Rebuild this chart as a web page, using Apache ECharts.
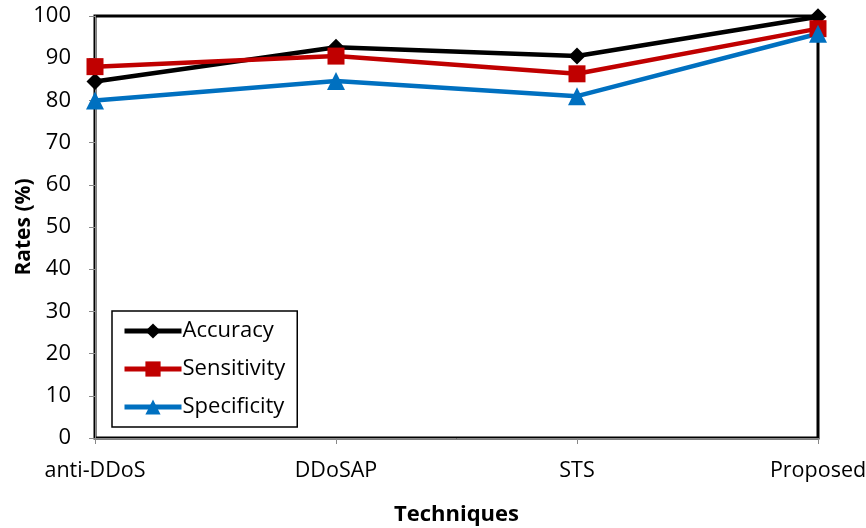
<!DOCTYPE html>
<html>
<head>
<meta charset="utf-8">
<script src="https://cdn.jsdelivr.net/npm/echarts@6/dist/echarts.min.js"></script>
<style>
  html, body { margin: 0; padding: 0; background: #fff; }
  #chart { width: 866px; height: 528px; }
</style>
</head>
<body>
<div id="chart"></div>
<script>
// Detection rates of each technique (%)
const techniques = ['anti-DDoS', 'DDoSAP', 'STS', 'Proposed'];
const accuracy = [84.5, 92.6, 90.5, 99.8];
const sensitivity = [88.0, 90.5, 86.3, 97.0];
const specificity = [80.0, 84.6, 81.0, 95.8];
const yTicks = [0, 10, 20, 30, 40, 50, 60, 70, 80, 90, 100];

const FONT = '"Open Sans", Lato, sans-serif';

function lineSeries(name, data, color, symbol, size) {
  return {
    name, type: 'line', data,
    symbol, symbolSize: size,
    lineStyle: { color, width: 4.5 },
    itemStyle: { color },
    z: 3
  };
}

const chart = echarts.init(document.getElementById('chart'), null, { renderer: 'canvas' });
chart.setOption({
  animation: false,
  backgroundColor: '#fff',
  textStyle: { fontFamily: FONT },
  grid: {
    left: 95, right: 48, top: 16, bottom: 90,
    outerBoundsMode: 'none',
    containLabel: false,
    show: true, borderColor: '#000', borderWidth: 3, backgroundColor: 'transparent'
  },
  legend: {
    left: 112, top: 311,
    orient: 'vertical',
    itemGap: 16,
    itemWidth: 57, itemHeight: 19,
    padding: [9, 12, 9, 10],
    borderColor: '#000', borderWidth: 1.5,
    backgroundColor: '#fff',
    lineStyle: { width: 5 },
    textStyle: { fontFamily: FONT, fontSize: 22, color: '#000', padding: [0, 0, 0, -4] },
    data: ['Accuracy', 'Sensitivity', 'Specificity']
  },
  xAxis: {
    type: 'category',
    data: techniques,
    boundaryGap: false,
    name: 'Techniques',
    nameLocation: 'middle',
    nameGap: 66,
    nameMoveOverlap: false,
    nameTextStyle: { fontFamily: FONT, fontSize: 22, fontWeight: 'bold', color: '#000' },
    axisLine: { lineStyle: { color: '#888', width: 1 } },
    axisTick: { show: true, length: 6, lineStyle: { color: '#888' }, alignWithLabel: true },
    axisLabel: { fontFamily: FONT, fontSize: 21.5, color: '#000', margin: 22 },
    splitLine: { show: false }
  },
  yAxis: {
    type: 'value',
    min: 0, max: 100, interval: 10,
    name: 'Rates (%)',
    nameLocation: 'middle',
    nameGap: 60,
    nameMoveOverlap: false,
    nameRotate: 90,
    nameTextStyle: { fontFamily: FONT, fontSize: 21, fontWeight: 'bold', color: '#000' },
    axisLine: { show: true, lineStyle: { color: '#888', width: 1 } },
    axisTick: { show: true, length: 6, lineStyle: { color: '#888' } },
    axisLabel: {
      fontFamily: FONT, fontSize: 22, color: '#000', margin: 24,
      formatter: v => (yTicks.includes(v) ? String(v) : '')
    },
    splitLine: { show: false }
  },
  series: [
    lineSeries('Accuracy', accuracy, '#000000', 'diamond', 17),
    lineSeries('Sensitivity', sensitivity, '#C00000', 'rect', 17),
    lineSeries('Specificity', specificity, '#0070C0', 'triangle', 18)
  ]
});
</script>
</body>
</html>
